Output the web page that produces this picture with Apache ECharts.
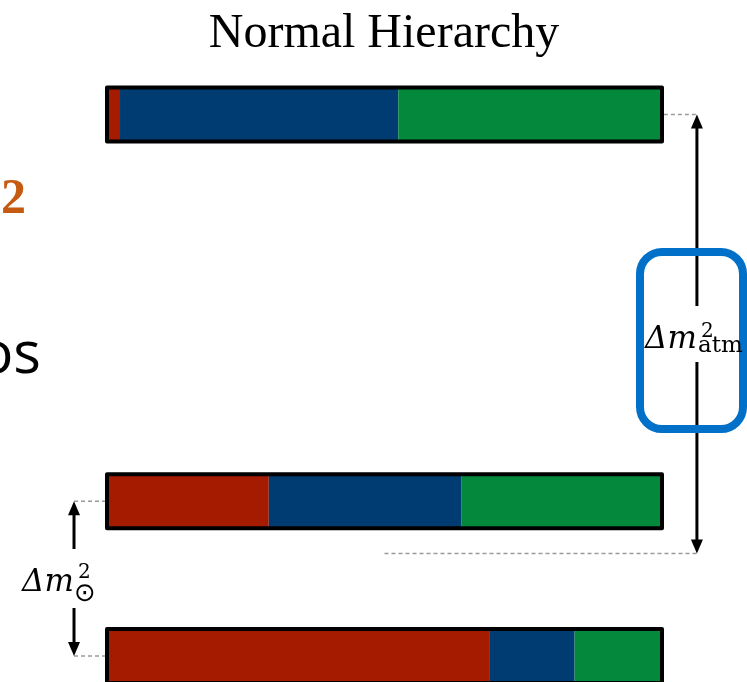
<!DOCTYPE html>
<html><head><meta charset="utf-8">
<script src="https://cdn.jsdelivr.net/npm/echarts@6/dist/echarts.min.js"></script>
<style>html,body{margin:0;padding:0;background:#fff}#c{width:747px;height:682px}</style>
</head><body><div id="c"></div>
<script>
// mass eigenstates (bottom to top) and their squared-mass levels (arbitrary units)
const states = ['ν1', 'ν2', 'ν3'];
const levels = [0, 0.4, 1.4];
// flavour content of each state
const nuE   = [0.69, 0.29, 0.02];
const nuMu  = [0.155, 0.35, 0.505];
const nuTau = [0.155, 0.36, 0.475];
const flavourColors = ['#A51B00', '#003B71', '#04883C'];
// annotation levels
const atmLowerLevel = 0.265;
const titleText = 'Normal Hierarchy';

const segs = [];
states.forEach((s, i) => {
  const parts = [nuE[i], nuMu[i], nuTau[i]];
  let acc = 0;
  parts.forEach((v, k) => { segs.push([acc, acc + v, levels[i], k]); acc += v; });
});

const chart = echarts.init(document.getElementById('c'), null, {renderer: 'canvas'});
chart.setOption({
  animation: false,
  backgroundColor: '#fff',
  grid: {left: 109, right: 87, top: 114.5, bottom: 26},
  xAxis: {type: 'value', min: 0, max: 1, show: false},
  yAxis: {type: 'value', min: 0, max: 1.4, show: false},
  series: [
    {
      type: 'custom', clip: false, data: segs,
      renderItem: (params, api) => {
        const p0 = api.coord([api.value(0), api.value(2)]);
        const p1 = api.coord([api.value(1), api.value(2)]);
        return {type: 'rect', shape: {x: p0[0], y: p0[1] - 26, width: p1[0] - p0[0], height: 52},
          style: {fill: flavourColors[api.value(3)]}};
      }
    },
    {
      type: 'custom', clip: false, data: levels.map(l => [l]),
      renderItem: (params, api) => {
        const p0 = api.coord([0, api.value(0)]);
        const p1 = api.coord([1, api.value(0)]);
        return {type: 'rect', shape: {x: p0[0] - 2, y: p0[1] - 27, width: p1[0] - p0[0] + 4, height: 54},
          style: {fill: null, stroke: '#000', lineWidth: 4, lineJoin: 'round'}};
      }
    }
  ]
});

const px = (x, y) => chart.convertToPixel({gridIndex: 0}, [x, y]);
const g = [];
function line(a, b, dashed) {
  g.push({type: 'line', shape: {x1: a[0], y1: a[1], x2: b[0], y2: b[1]},
    style: dashed ? {stroke: '#9a9a9a', lineWidth: 1.6, lineDash: [4, 3]} : {stroke: '#000', lineWidth: 3}});
}
function head(tip, dir) { // dir -1 up, +1 down
  g.push({type: 'polygon', shape: {points: [[tip[0], tip[1]], [tip[0] - 6, tip[1] - dir * 14], [tip[0] + 6, tip[1] - dir * 14]]},
    style: {fill: '#000'}});
}
const atmX = 1.067, solX = -0.0635;
// atmospheric arrow
const aTop = px(atmX, levels[2]), aBot = px(atmX, atmLowerLevel);
line(px(1.007, levels[2]), aTop, true);
line(px(0.5, atmLowerLevel), aBot, true);
line([aTop[0], aTop[1] + 10], [aTop[0], 306]);
line([aTop[0], 362], [aBot[0], aBot[1] - 10]);
head(aTop, -1); head(aBot, 1);
// solar arrow
const sTop = px(solX, levels[1]), sBot = px(solX, levels[0]);
line(sTop, px(-0.007, levels[1]), true);
line(sBot, px(-0.007, levels[0]), true);
line([sTop[0], sTop[1] + 10], [sTop[0], 549]);
line([sTop[0], 608], [sBot[0], sBot[1] - 10]);
head(sTop, -1); head(sBot, 1);
// blue box
g.push({type: 'rect', shape: {x: 640, y: 252, width: 103, height: 177, r: 22},
  style: {fill: null, stroke: '#0070C8', lineWidth: 8}});
// texts
const T = (x, y, text, font, fill, align, va) => g.push({type: 'text', x, y,
  style: {text, font, fill: fill || '#000', align: align || 'left', verticalAlign: va || 'middle'}});
T(384, 34, titleText, '48px "Liberation Serif"', '#000', 'center');
T(26, 200, '2', 'bold 50px "Liberation Serif"', '#C55A11', 'right');
T(41, 356, 'os', '58px "Open Sans"', '#000', 'right');
// solar label
T(22, 598, 'Δm', 'italic 31px "DejaVu Serif"', '#000', 'left', 'bottom');
T(78, 583, '2', '20px "DejaVu Serif"', '#000', 'left', 'bottom');
T(74, 594, '⊙', '26px "DejaVu Sans"', '#000', 'left', 'middle');
// atmospheric label
T(645, 355, 'Δm', 'italic 31px "DejaVu Serif"', '#000', 'left', 'bottom');
T(701, 342, '2', '20px "DejaVu Serif"', '#000', 'left', 'bottom');
T(698, 358, 'atm', '23px "DejaVu Serif"', '#000', 'left', 'bottom');
chart.setOption({graphic: {elements: g}});
</script></body></html>
